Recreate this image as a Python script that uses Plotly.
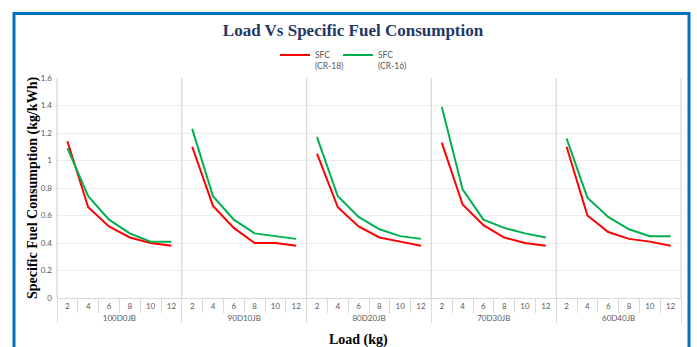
import plotly.graph_objects as go

groups = ["100D0JB", "90D10JB", "80D20JB", "70D30JB", "60D40JB"]
loads = ["2", "4", "6", "8", "10", "12"]

sfc_cr18 = [
    [1.14, 0.66, 0.52, 0.44, 0.40, 0.38],
    [1.10, 0.67, 0.51, 0.40, 0.40, 0.38],
    [1.05, 0.66, 0.52, 0.44, 0.41, 0.38],
    [1.13, 0.68, 0.53, 0.44, 0.40, 0.38],
    [1.10, 0.60, 0.48, 0.43, 0.41, 0.38],
]
sfc_cr16 = [
    [1.09, 0.74, 0.57, 0.47, 0.41, 0.41],
    [1.23, 0.74, 0.57, 0.47, 0.45, 0.43],
    [1.17, 0.74, 0.59, 0.50, 0.45, 0.43],
    [1.39, 0.79, 0.57, 0.51, 0.47, 0.44],
    [1.16, 0.73, 0.59, 0.50, 0.45, 0.45],
]

series = [
    ("SFC<br>(CR-18)", sfc_cr18, "#FF0000", "legend"),
    ("SFC<br>(CR-16)", sfc_cr16, "#00B050", "legend2"),
]

W, H = 697, 347
ML, MR, MT, MB = 57, 16, 78, 49
PW, PH = W - ML - MR, H - MT - MB

fig = go.Figure()
for name, data, color, leg in series:
    for gi, g in enumerate(groups):
        fig.add_trace(go.Scatter(
            x=[[g] * len(loads), loads],
            y=data[gi],
            mode="lines",
            name=name,
            legend=leg,
            legendgroup=name,
            showlegend=(gi == 0),
            line=dict(color=color, width=2),
        ))

n_cat = len(groups) * len(loads)

shapes = []
# vertical separators at group boundaries
for i in range(len(groups) + 1):
    shapes.append(dict(type="line", xref="paper", yref="paper",
                       x0=i / len(groups), x1=i / len(groups), y0=0, y1=1,
                       line=dict(color="#d9d9d9", width=1.3)))

def px2x(px):
    return (px - ML) / PW

def py2y(py):
    return (H - MB - py) / PH

# blue outer frame
shapes.append(dict(type="rect", xref="paper", yref="paper",
                   x0=px2x(14), x1=px2x(689), y0=py2y(360), y1=py2y(13.5),
                   line=dict(color="#0070C0", width=3), fillcolor="rgba(0,0,0,0)"))

legend_style = dict(orientation="h", xref="container", yref="container",
                    xanchor="left", y=1 - 43 / H, yanchor="top",
                    valign="top", itemwidth=30,
                    font=dict(family="Lato", size=8.5, color="#595959"),
                    bgcolor="rgba(0,0,0,0)")

fig.update_layout(
    width=W, height=H,
    margin=dict(l=ML, r=MR, t=MT, b=MB, autoexpand=False),
    paper_bgcolor="white", plot_bgcolor="white",
    title=dict(text="<b>Load Vs Specific Fuel Consumption</b>",
               font=dict(family="Liberation Serif", size=17, color="#1F3864"),
               x=353 / W, xanchor="center", y=1 - 30 / H, yanchor="middle",
               xref="container", yref="container"),
    legend=dict(x=275 / W, **legend_style),
    legend2=dict(x=338 / W, **legend_style),
    shapes=shapes,
    annotations=[
        dict(text="<b>Load (kg)</b>", xref="paper", yref="paper",
             x=px2x(358), y=py2y(340), xanchor="center", yanchor="middle",
             showarrow=False,
             font=dict(family="Liberation Serif", size=14, color="black")),
        dict(text="<b>Specific Fuel Consumption (kg/kWh)</b>", xref="paper", yref="paper",
             x=px2x(33), y=0.5, xanchor="center", yanchor="middle", textangle=-90,
             showarrow=False,
             font=dict(family="Liberation Serif", size=14, color="black")),
    ],
)

fig.update_xaxes(
    type="multicategory",
    range=[-0.5, n_cat - 0.5],
    automargin=False,
    showgrid=False,
    showline=True, linecolor="#d9d9d9", linewidth=1,
    ticks="outside", tickson="boundaries", ticklen=14, tickcolor="#d9d9d9",
    showdividers=True, dividercolor="#d9d9d9", dividerwidth=1,
    tickfont=dict(family="Lato", size=8, color="#595959"),
)
fig.update_yaxes(
    range=[0, 1.6], dtick=0.2, tick0=0,
    automargin=False,
    showgrid=True, gridcolor="#ececec", gridwidth=1,
    zeroline=False, showline=False,
    ticks="", ticklabelstandoff=4,
    tickfont=dict(family="Lato", size=8, color="#595959"),
)

fig.write_html("out.html", config={"displayModeBar": False},
               post_script="document.body.style.margin='0';document.body.style.overflow='hidden';")
